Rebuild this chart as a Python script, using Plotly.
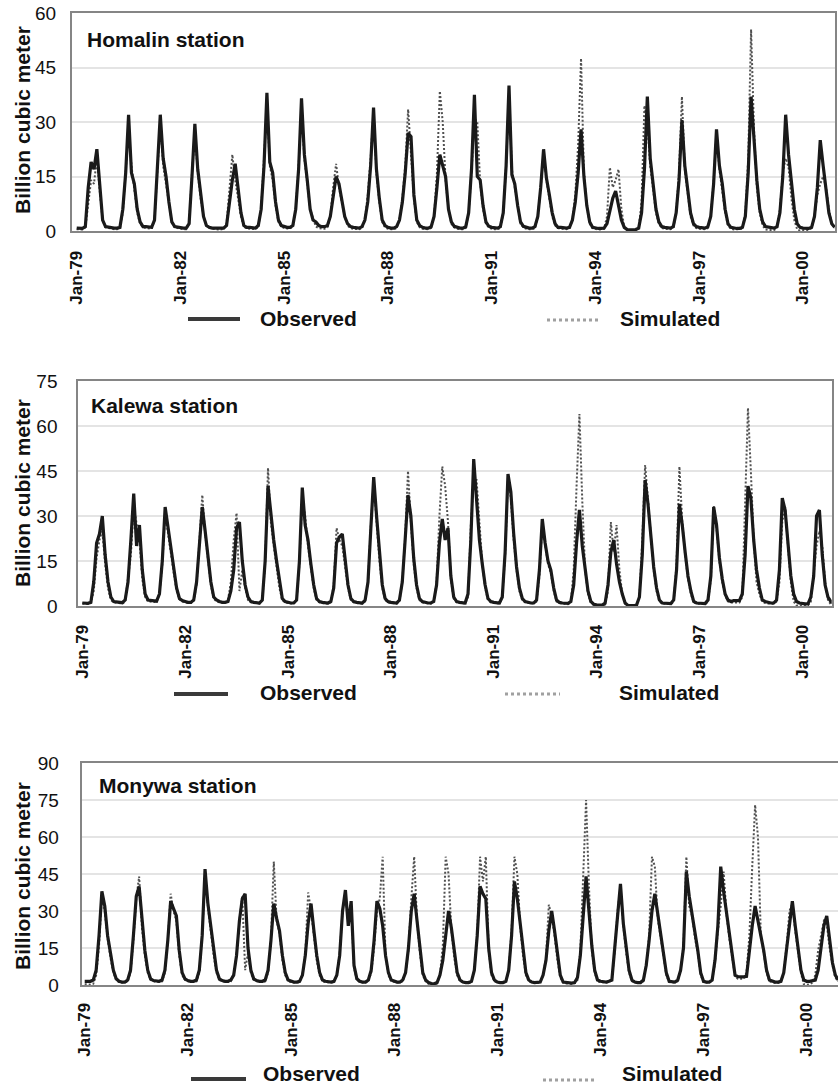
import plotly.graph_objects as go

# ---------------- data (billion cubic meter, monthly, Jan..Dec) ----------------
YEARS = list(range(1979, 2001))
TICK_YEARS = [1979, 1982, 1985, 1988, 1991, 1994, 1997, 2000]
TICK_LABELS = ["Jan-79", "Jan-82", "Jan-85", "Jan-88", "Jan-91", "Jan-94", "Jan-97", "Jan-00"]
SERIES_NAMES = ["Observed", "Simulated"]
STATIONS = ["Homalin station", "Kalewa station", "Monywa station"]

HOMALIN_OBS = [
    [0.8, 0.7, 0.7, 1.2, 12, 19, 17, 22.5, 12, 3, 1.2, 1.0],
    [1.0, 0.8, 0.8, 1.0, 6, 16, 32, 16, 13, 6, 2.5, 1.2],
    [1.2, 1.0, 1.0, 3, 16, 32, 20, 15, 8, 2.5, 1.2, 1.0],
    [1.0, 0.8, 0.8, 2, 15, 29.5, 17, 10, 4, 1.5, 1.0, 0.8],
    [0.8, 0.7, 0.7, 0.8, 1.5, 8, 14, 18.5, 11, 5, 1.5, 1.0],
    [1.0, 0.8, 0.8, 1.5, 6, 18, 38, 19, 16, 8, 3, 1.5],
    [1.2, 1.0, 1.0, 1.5, 6, 17, 36.5, 21, 14, 6, 3, 2.5],
    [1.5, 1.2, 1.2, 1.5, 4, 10, 15, 13, 9, 4, 2, 1.2],
    [1.0, 0.8, 0.8, 1.2, 3, 8, 18, 34, 17, 9, 3, 1.5],
    [1.0, 0.8, 0.8, 1.2, 3, 8, 16, 27, 26, 10, 3, 1.5],
    [1.0, 0.8, 0.8, 1.2, 4, 12, 21, 18, 15, 6, 2.5, 1.3],
    [1.0, 0.8, 0.8, 1.2, 5, 17, 37.5, 15, 14, 7, 2.5, 1.3],
    [1.0, 0.8, 0.8, 1.2, 5, 18, 40, 15.5, 13, 7, 2.5, 1.3],
    [1.0, 0.8, 0.8, 1.2, 4, 12, 22.5, 14.5, 10, 5, 2, 1.0],
    [1.0, 0.8, 0.8, 1.0, 3, 8, 16, 28, 15, 7, 2.5, 1.0],
    [0.8, 0.7, 0.7, 0.8, 2, 6, 9, 11, 7, 3, 1.0, 0.4],
    [0.3, 0.3, 0.4, 0.8, 5, 17, 37, 20, 13, 6, 2.5, 1.2],
    [1.0, 0.8, 0.8, 1.2, 5, 14, 30.5, 18, 12, 5, 2, 1.2],
    [1.0, 0.8, 0.8, 1.2, 4, 13, 28, 18, 13, 6, 2, 1.0],
    [0.8, 0.7, 0.7, 1.0, 4, 16, 37, 24, 14, 6, 2.5, 1.2],
    [1.0, 0.8, 0.8, 1.2, 5, 15, 32, 21, 13, 6, 2, 1.0],
    [0.8, 0.7, 0.7, 1.0, 4, 12, 25, 18, 11, 5, 2, 1.0],
]
HOMALIN_SIM = [
    [0.5, 0.4, 0.4, 1.0, 8, 14, 13, 20, 11, 3, 1.0, 0.8],
    [0.6, 0.5, 0.5, 0.8, 5, 18, 28, 18, 12, 5, 2, 1.0],
    [0.8, 0.6, 0.6, 3, 16, 30, 18, 13, 7, 2.5, 1.0, 0.8],
    [0.6, 0.5, 0.5, 2, 16, 27, 16, 9, 4, 1.5, 0.8, 0.6],
    [0.5, 0.4, 0.4, 0.6, 2, 12, 21, 14, 9, 4, 1.2, 0.7],
    [0.6, 0.5, 0.5, 1.2, 6, 20, 35, 18, 14, 7, 2.5, 1.2],
    [0.8, 0.7, 0.7, 1.2, 6, 18, 33, 20, 13, 6, 3.5, 1.2],
    [0.8, 0.6, 0.6, 1.0, 4, 12, 18.5, 12, 8, 4, 1.5, 0.8],
    [0.6, 0.5, 0.5, 0.8, 3, 10, 20, 33, 16, 8, 2.5, 1.0],
    [0.6, 0.5, 0.5, 0.8, 3, 9, 18, 33.5, 22, 9, 2.5, 1.0],
    [0.6, 0.5, 0.5, 0.8, 4, 16, 38.5, 30, 14, 6, 2, 1.0],
    [0.6, 0.5, 0.5, 0.8, 5, 16, 31, 30, 13, 6, 2, 1.0],
    [0.6, 0.5, 0.5, 0.8, 5, 18, 38, 17, 12, 6, 2, 1.0],
    [0.6, 0.5, 0.5, 0.8, 4, 12, 21, 14, 9, 4, 1.5, 0.8],
    [0.6, 0.5, 0.5, 0.8, 3, 10, 24, 47.5, 16, 7, 2, 0.8],
    [0.5, 0.4, 0.4, 0.6, 4, 17.5, 12, 14, 17, 6, 1.0, 0.3],
    [0.2, 0.2, 0.3, 0.8, 8, 34.5, 30, 18, 12, 5, 2, 0.8],
    [0.6, 0.5, 0.5, 0.8, 5, 16, 37, 17, 10, 4, 1.5, 0.8],
    [0.6, 0.5, 0.5, 0.8, 4, 14, 27, 17, 11, 5, 1.5, 0.6],
    [0.4, 0.4, 0.4, 0.6, 5, 20, 55.5, 28, 12, 5, 1.5, 0.4],
    [0.3, 0.3, 0.3, 0.8, 6, 16, 20, 17.5, 9, 3, 0.4, 0.1],
    [0.1, 0.2, 0.3, 0.8, 4, 10, 13, 15, 12, 6, 2, 0.8],
]

KALEWA_OBS = [
    [1.0, 0.9, 0.9, 1.2, 8, 21, 24, 30, 17, 8, 3, 1.5],
    [1.3, 1.1, 1.1, 2, 8, 22, 37.5, 20, 27, 12, 4, 2],
    [1.8, 1.6, 1.6, 4, 15, 33, 26, 20, 13, 6, 2.5, 1.8],
    [1.5, 1.2, 1.2, 2, 8, 22, 33, 25, 17, 8, 3, 2],
    [1.5, 1.2, 1.2, 1.5, 5, 12, 26, 28, 15, 7, 3, 1.5],
    [1.2, 1.0, 1.0, 2, 15, 40, 30, 22, 15, 8, 2.5, 1.5],
    [1.2, 1.0, 1.0, 2, 15, 39.5, 27, 22, 14, 7, 2.5, 1.5],
    [1.2, 1.0, 1.0, 1.5, 6, 21, 23, 24, 15, 7, 2.5, 1.5],
    [1.2, 1.0, 1.0, 2, 8, 26, 43, 30, 17, 7, 2.5, 1.5],
    [1.2, 1.0, 1.0, 2, 8, 22, 37, 30, 16, 7, 2.5, 1.5],
    [1.2, 1.0, 1.0, 1.5, 7, 21, 29, 22, 26, 10, 3, 1.5],
    [1.2, 1.0, 1.0, 4, 22, 49, 35, 22, 14, 7, 2.5, 1.5],
    [1.2, 1.0, 1.0, 3, 18, 44, 38, 24, 13, 6, 2.5, 1.5],
    [1.2, 1.0, 1.0, 2, 12, 29, 21, 15, 12, 6, 2, 1.2],
    [1.0, 0.9, 0.9, 1.5, 7, 21, 32, 20, 12, 5, 1.5, 0.6],
    [0.4, 0.3, 0.3, 1.0, 7, 18, 22, 14, 8, 4, 1.0, 0.2],
    [0.1, 0.1, 0.3, 3, 17, 42, 34, 22, 13, 6, 2, 1],
    [1.0, 0.8, 0.8, 2, 12, 34, 27, 18, 10, 5, 1.5, 1],
    [1.0, 0.8, 0.8, 2, 10, 33, 27, 16, 9, 4, 2, 1.5],
    [1.8, 1.8, 1.8, 4, 17, 40, 36, 22, 12, 6, 2, 1.5],
    [1.2, 1.0, 1.0, 2, 12, 36, 32, 20, 10, 4, 1.5, 1],
    [0.8, 0.7, 0.7, 3, 10, 30, 32, 17, 7, 3, 1.5, 1],
]
KALEWA_SIM = [
    [0.8, 0.7, 0.7, 1.0, 5, 16, 22, 25, 14, 6, 2, 1.2],
    [1.0, 0.8, 0.8, 1.5, 10, 17, 33, 28, 22, 9, 3, 1.5],
    [1.5, 1.3, 1.3, 4, 14, 31, 24, 18, 11, 5, 2.2, 1.5],
    [1.2, 1.0, 1.0, 1.8, 7, 24, 37, 24, 15, 7, 2.5, 1.5],
    [1.2, 1.0, 1.0, 2, 8, 22, 31, 5, 12, 6, 2, 1.2],
    [1.0, 0.8, 0.8, 2, 14, 46, 28, 20, 13, 6, 2, 1.2],
    [1.0, 0.8, 0.8, 2, 14, 36, 30, 20, 12, 6, 2, 1.2],
    [1.0, 0.8, 0.8, 1.2, 7, 26, 22, 20, 13, 6, 2, 1.2],
    [1.0, 0.8, 0.8, 1.5, 8, 27, 42, 28, 15, 6, 2, 1.2],
    [1.0, 0.8, 0.8, 1.5, 8, 23, 45, 28, 14, 6, 2, 1.2],
    [1.0, 0.8, 0.8, 1.2, 8, 30, 46.5, 40, 28, 9, 2.5, 1.2],
    [1.0, 0.8, 0.8, 3, 27, 42, 42, 28, 14, 6, 2, 1.2],
    [1.0, 0.8, 0.8, 3, 17, 43, 36, 22, 12, 5, 2, 1.2],
    [1.0, 0.8, 0.8, 1.5, 10, 27, 20, 14, 11, 5, 1.5, 1],
    [0.8, 0.6, 0.6, 1.2, 12, 40, 64, 35, 12, 4, 1, 0.4],
    [0.2, 0.1, 0.1, 0.5, 5, 28, 18, 27, 12, 4, 0.8, 0.1],
    [0.0, 0.0, 0.2, 3, 22, 47, 35, 22, 12, 5, 1.5, 0.8],
    [0.8, 0.6, 0.6, 1.5, 14, 46.5, 28, 17, 9, 4, 1.2, 0.8],
    [0.8, 0.6, 0.6, 1.5, 9, 33.5, 26, 15, 8, 3.5, 1.5, 1.2],
    [1.2, 1.2, 1.2, 3, 32, 66, 45, 22, 8, 4, 1.5, 1],
    [0.8, 0.7, 0.7, 1.5, 8, 28, 33, 20, 8, 1.5, 0.2, 0.1],
    [0.1, 0.1, 0.3, 1.5, 12, 20, 25, 20, 8, 2, 0.5, 0.3],
]

MONYWA_OBS = [
    [1.5, 1.5, 1.5, 2, 6, 20, 38, 32, 20, 13, 6, 2.5],
    [1.5, 1.2, 1.2, 2, 6, 20, 36, 40, 25, 14, 6, 2.5],
    [1.8, 1.5, 1.5, 2, 6, 18, 34, 31, 28, 14, 5, 2.5],
    [1.8, 1.5, 1.5, 2, 6, 20, 47, 33, 24, 14, 6, 2.5],
    [1.8, 1.5, 1.5, 2, 4, 12, 26, 35, 37, 15, 6, 2.5],
    [1.8, 1.5, 1.5, 2, 6, 18, 33, 27, 22, 12, 5, 2],
    [1.5, 1.2, 1.2, 1.5, 4, 12, 25, 33, 22, 12, 5, 2],
    [1.5, 1.2, 1.2, 1.5, 4, 12, 30, 38.5, 24, 34, 8, 2.5],
    [1.5, 1.2, 1.2, 2, 6, 18, 34, 31, 24, 12, 5, 2],
    [1.5, 1.2, 1.2, 2, 5, 15, 30, 37, 26, 14, 5, 2],
    [1.0, 0.6, 0.5, 1, 4, 10, 20, 30, 23, 13, 5, 2],
    [1.2, 1.0, 1.0, 1.5, 6, 20, 40, 37, 35, 15, 5, 2],
    [1.2, 1.0, 1.0, 1.5, 6, 20, 42, 35, 25, 14, 5, 2],
    [1.2, 1.0, 1.0, 1.2, 4, 10, 22, 30, 22, 12, 4, 1.2],
    [1.0, 0.8, 0.8, 1.0, 3, 12, 30, 44, 30, 16, 6, 2],
    [1.5, 1.2, 1.2, 1.5, 2, 15, 28, 41, 25, 14, 6, 2],
    [1.2, 1.0, 1.0, 2, 8, 18, 30, 37, 29, 22, 14, 5],
    [1.5, 1.2, 1.2, 2, 6, 15, 46, 36, 29, 20, 14, 5],
    [1.5, 1.2, 1.2, 2, 10, 24, 48, 38, 30, 20, 12, 4],
    [3.4, 3.3, 3.3, 3.5, 15, 24, 32, 25, 20, 14, 6, 2],
    [1.5, 1.2, 1.2, 1.5, 5, 15, 26, 34, 24, 15, 6, 2],
    [1.5, 1.5, 1.8, 2, 6, 15, 24, 28, 18, 9, 4, 2],
]
MONYWA_SIM = [
    [0.3, 0.2, 0.2, 0.5, 4, 16, 36, 30, 19, 11, 5, 2],
    [1.2, 1.0, 1.0, 1.5, 5, 18, 35, 44, 23, 12, 5, 2],
    [1.5, 1.2, 1.2, 1.5, 5, 18, 37, 30, 26, 12, 4, 2],
    [1.5, 1.2, 1.2, 1.5, 5, 20, 45, 32, 22, 12, 5, 2],
    [1.5, 1.2, 1.2, 1.5, 4, 12, 26, 36, 6, 13, 5, 2],
    [1.5, 1.2, 1.2, 1.5, 5, 18, 50, 26, 21, 10, 4, 1.5],
    [1.2, 1.0, 1.0, 1.2, 4, 13, 37.5, 30, 19, 10, 4, 1.5],
    [1.2, 1.0, 1.0, 1.2, 4, 13, 30, 37, 24, 32, 7, 2],
    [1.2, 1.0, 1.0, 1.5, 5, 15, 30, 35, 52, 12, 4, 1.5],
    [1.2, 1.0, 1.0, 1.5, 5, 14, 35, 52, 26, 13, 4, 1.5],
    [0.5, 0.3, 0.3, 0.6, 4, 16, 52, 45, 22, 11, 4, 1.5],
    [1.0, 0.8, 0.8, 1.2, 6, 20, 52, 42, 52, 14, 4, 1.5],
    [1.0, 0.8, 0.8, 1.2, 6, 22, 52, 45, 24, 12, 4, 1.5],
    [1.0, 0.8, 0.8, 1.0, 4, 11, 32.5, 28, 20, 10, 3, 1.0],
    [0.6, 0.5, 0.5, 0.8, 2, 14, 45, 75, 40, 14, 5, 1.5],
    [1.2, 1.0, 1.0, 1.2, 2, 14, 30, 40, 24, 13, 5, 1.5],
    [1.0, 0.8, 0.8, 1.5, 8, 20, 52, 48, 27, 20, 12, 4],
    [1.2, 1.0, 1.0, 1.5, 6, 16, 52, 32, 28, 19, 13, 4],
    [1.2, 1.0, 1.0, 2, 9, 22, 32, 46, 29, 19, 11, 3.5],
    [2.5, 2.5, 2.5, 5, 20, 48, 73, 60, 20, 13, 5, 1.5],
    [1.0, 0.8, 0.8, 1.2, 5, 16, 30, 33, 22, 13, 5, 0.3],
    [0.1, 0.3, 1.0, 4, 14, 20, 26, 25, 15, 8, 3, 1.5],
]

# ---------------- layout helpers ----------------
# The page body margin is removed after drawing, so the figure fills the window
# and reference pixels map straight onto figure pixels.
W, H = 838, 1084
FONT = "Liberation Sans, Arial, sans-serif"
INK = "#111111"


def fx(p):
    return min(1.0, max(0.0, p / W))


def fy(p):
    return min(1.0, max(0.0, 1 - p / H))


def flat(rows):
    return [v for r in rows for v in r]


months = [12 * (y - YEARS[0]) + m for y in YEARS for m in range(12)]
tickvals = [12 * (y - YEARS[0]) for y in TICK_YEARS]

panels = [
    dict(title=STATIONS[0], obs=HOMALIN_OBS, sim=HOMALIN_SIM, ymax=60,
         left=72, right=835, top=13, bottom=231, jan79=76.7, ppm=2.882,
         ylen=10, xlen=11, mirror_y=True, title_xy=(85, 40), ytitle_y=120,
         leg=dict(ol=(188, 240, 319), ot=(258, 318), sl=(547, 598, 320), st=(618, 318))),
    dict(title=STATIONS[1], obs=KALEWA_OBS, sim=KALEWA_SIM, ymax=75,
         left=78.3, right=831.7, top=381, bottom=606, jan79=82.3, ppm=2.857,
         ylen=15, xlen=10, mirror_y=True, title_xy=(89, 406), ytitle_y=493,
         leg=dict(ol=(174, 228, 694), ot=(258, 693), sl=(505, 560, 694), st=(617, 693))),
    dict(title=STATIONS[2], obs=MONYWA_OBS, sim=MONYWA_SIM, ymax=90,
         left=81.7, right=W, top=763, bottom=985, jan79=84.7, ppm=2.865,
         ylen=17, xlen=9, mirror_y=False, title_xy=(97, 785), ytitle_y=876,
         leg=dict(ol=(191, 246, 1079), ot=(261, 1073), sl=(543, 597, 1080), st=(620, 1073))),
]

fig = go.Figure()
layout = dict(width=W, height=H, margin=dict(l=0, r=0, t=0, b=0, autoexpand=False),
              paper_bgcolor="white", plot_bgcolor="white", showlegend=False,
              font=dict(family=FONT, color=INK))
annotations = []
shapes = []

for k, p in enumerate(panels):
    sfx = "" if k == 0 else str(k + 1)
    xa, ya = "x" + sfx, "y" + sfx
    fig.add_trace(go.Scatter(x=months, y=flat(p["sim"]), xaxis=xa, yaxis=ya,
                             mode="lines", name=SERIES_NAMES[1],
                             line=dict(color="#505050", width=2, dash="2px,2px")))
    fig.add_trace(go.Scatter(x=months, y=flat(p["obs"]), xaxis=xa, yaxis=ya,
                             mode="lines", name=SERIES_NAMES[0],
                             line=dict(color="#1a1a1a", width=3.2)))
    xr = [(p["left"] - p["jan79"]) / p["ppm"], (p["right"] - p["jan79"]) / p["ppm"]]
    layout["xaxis" + sfx] = dict(
        domain=[fx(p["left"]), fx(p["right"])], anchor=ya, range=xr, automargin=False,
        tickmode="array", tickvals=tickvals, ticktext=TICK_LABELS, tickangle=-90,
        tickfont=dict(size=17, family=FONT, color=INK, weight="bold"),
        ticks="outside", ticklen=p["xlen"], tickcolor="rgba(0,0,0,0)",
        showgrid=False, zeroline=False, showline=True, mirror=True,
        linecolor="#858585", linewidth=2)
    layout["yaxis" + sfx] = dict(
        domain=[fy(p["bottom"]), fy(p["top"])], anchor=xa, range=[0, p["ymax"]],
        automargin=False, tickmode="linear", tick0=0, dtick=15,
        tickfont=dict(size=19, family=FONT, color=INK),
        ticks="outside", ticklen=p["ylen"], tickcolor="rgba(0,0,0,0)",
        showgrid=True, gridcolor="#e4e4e4", gridwidth=2, zeroline=False,
        showline=True, mirror=p["mirror_y"], linecolor="#858585", linewidth=2)
    # station title
    tx, ty = p["title_xy"]
    annotations.append(dict(text="<b>" + p["title"] + "</b>", xref="paper", yref="paper",
                            x=fx(tx), y=fy(ty), xanchor="left", yanchor="middle",
                            showarrow=False, font=dict(size=21, family=FONT, color=INK)))
    # y axis title
    annotations.append(dict(text="<b>Billion cubic meter</b>", xref="paper", yref="paper",
                            x=fx(22), y=fy(p["ytitle_y"]), xanchor="center", yanchor="middle",
                            textangle=-90, showarrow=False,
                            font=dict(size=21, family=FONT, color=INK)))
    # legend
    lg = p["leg"]
    x0, x1, yl = lg["ol"]
    shapes.append(dict(type="line", xref="paper", yref="paper", x0=fx(x0), x1=fx(x1),
                       y0=fy(yl), y1=fy(yl), line=dict(color="#3a3a3a", width=4)))
    x0, x1, yl = lg["sl"]
    shapes.append(dict(type="line", xref="paper", yref="paper", x0=fx(x0), x1=fx(x1),
                       y0=fy(yl), y1=fy(yl), line=dict(color="#a0a0a0", width=3, dash="dot")))
    for name, key in ((SERIES_NAMES[0], "ot"), (SERIES_NAMES[1], "st")):
        lx, ly = lg[key]
        annotations.append(dict(text="<b>" + name + "</b>", xref="paper", yref="paper",
                                x=fx(lx), y=fy(ly), xanchor="left", yanchor="middle",
                                showarrow=False, font=dict(size=21, family=FONT, color=INK)))

layout["annotations"] = annotations
layout["shapes"] = shapes
fig.update_layout(**layout)

fig.write_html("out.html", config={"displayModeBar": False},
               post_script="document.body.style.margin='0';")
